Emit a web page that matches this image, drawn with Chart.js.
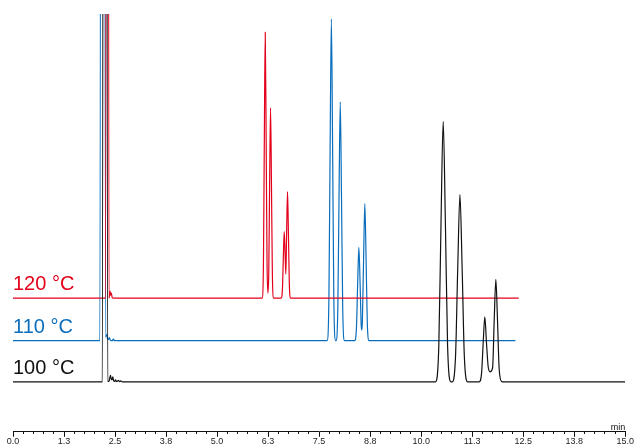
<!DOCTYPE html>
<html>
<head>
<meta charset="utf-8">
<script src="https://cdn.jsdelivr.net/npm/chart.js@4.4.0/dist/chart.umd.min.js"></script>
<style>
  html, body { margin: 0; padding: 0; background: #fff; }
</style>
</head>
<body>
<canvas id="myChart" width="635" height="446"></canvas>
<script>
// Traces (time in min, signal in arbitrary units)
const traceLabels = ["120 °C", "110 °C", "100 °C"];
const traceColors = ["#e3001b", "#0a6ebd", "#111111"];
const drawOrder = [1, 2, 0]; // black on top, blue at the bottom

const redTimes = [0, 2.27, 2.31, 2.35, 2.362, 2.377, 2.39, 2.41, 2.43, 2.46,
  6.103, 6.136, 6.158, 6.18, 6.202, 6.224, 6.245,
  6.266, 6.288, 6.31, 6.332, 6.354, 6.387,
  6.568, 6.601, 6.623, 6.645, 6.667, 6.685, 6.704, 6.726, 6.748, 6.77, 6.803,
  12.39];
const redSignal = [134, 134, 3000, 134, 136, 141, 137, 139, 134.5, 134,
  134, 170, 295.8, 400.5, 295.8, 170, 139,
  159.8, 249.8, 324.8, 249.8, 159.8, 134,
  134, 143, 174.5, 200.8, 177.5, 158, 200.6, 240.8, 198.8, 148.4, 134,
  134];

const blueTimes = [0, 2.13, 2.19, 2.27, 2.284, 2.30, 2.316, 2.34, 2.36, 2.39, 2.43, 2.46, 2.49,
  7.695, 7.74, 7.77, 7.80, 7.83, 7.86, 7.905,
  7.913, 7.958, 7.988, 8.018, 8.048, 8.078, 8.123,
  8.369, 8.414, 8.444, 8.474, 8.504, 8.532, 8.547,
  8.56, 8.59, 8.62, 8.65, 8.68, 8.725,
  12.31];
const blueSignal = [91.3, 91.3, 3000, 95, 97.5, 97, 93, 92.5, 94.5, 91.5, 91.3, 93, 91.3,
  91.3, 134.8, 287.1, 413.8, 287.1, 134.8, 91.3,
  91.3, 123.6, 236.7, 330.8, 236.7, 123.6, 91.3,
  91.3, 103.9, 148.1, 184.8, 148.5, 106, 102,
  111.4, 174.8, 228.8, 174.8, 109.9, 91.3,
  91.3];

const blackTimes = [0, 2.19, 2.25, 2.32, 2.35, 2.372, 2.389, 2.405, 2.425, 2.445, 2.465, 2.49,
  2.512, 2.535, 2.56, 2.585, 2.61, 2.64, 2.68,
  10.35, 10.432, 10.486, 10.54, 10.594, 10.648, 10.73,
  10.76, 10.842, 10.896, 10.95, 11.004, 11.058, 11.14,
  11.42, 11.48, 11.52, 11.56, 11.60, 11.64, 11.69,
  11.75, 11.79, 11.83, 11.87, 11.91, 11.97, 12.02,
  15];
const blackSignal = [50, 50, 3000, 50.5, 50.5, 54, 56.5, 53, 52, 55, 51.5, 50.5,
  52, 50.3, 50.8, 51.5, 50.2, 51, 50,
  50, 85.2, 208.5, 311.1, 208.5, 85.2, 50,
  50, 75.4, 164, 237.8, 164, 75.4, 50,
  50, 58.8, 89.5, 115.1, 89.5, 66, 60,
  64, 112.4, 152.8, 112.4, 63.9, 50.5, 50,
  50];

const tickLabels = ["0.0", "1.3", "2.5", "3.8", "5.0", "6.3", "7.5", "8.8", "10.0", "11.3", "12.5", "13.8", "15.0"];
const majorStep = 1.25;
const minorStep = 0.25;
const axisUnit = "min";

function toPoints(times, values) {
  return times.map((t, i) => ({ x: t, y: values[i] }));
}

const allTraces = [
  toPoints(redTimes, redSignal),
  toPoints(blueTimes, blueSignal),
  toPoints(blackTimes, blackSignal),
];

// minor ticks, "min" unit and the temperature labels
const extras = {
  id: "extras",
  afterDraw(chart) {
    const ctx = chart.ctx;
    const xScale = chart.scales.x;
    const yScale = chart.scales.y;
    const area = chart.chartArea;
    const axisY = Math.round(area.bottom - 0.5);

    ctx.save();
    ctx.strokeStyle = "#111";
    ctx.lineWidth = 1;
    ctx.beginPath();
    const count = Math.round(15 / minorStep);
    for (let i = 0; i <= count; i++) {
      if (i % 5 === 0) continue;
      const px = Math.round(xScale.getPixelForValue(i * minorStep) - 0.5) + 0.5;
      ctx.moveTo(px, axisY);
      ctx.lineTo(px, axisY + 3);
    }
    ctx.stroke();

    ctx.fillStyle = "#111";
    ctx.font = "9px 'Liberation Sans', Arial, sans-serif";
    ctx.textAlign = "right";
    ctx.textBaseline = "alphabetic";
    ctx.fillText(axisUnit, area.right, axisY - 1);

    ctx.font = "20px 'Liberation Sans', Arial, sans-serif";
    ctx.textAlign = "left";
    chart.data.datasets.forEach((ds, i) => {
      const py = yScale.getPixelForValue(ds.data[0].y);
      ctx.fillStyle = traceColors[i];
      ctx.fillText(traceLabels[i], area.left, py - 8);
    });
    ctx.restore();
  },
};

const ctx = document.getElementById("myChart").getContext("2d");
const myChart = new Chart(ctx, {
  type: "line",
  data: {
    datasets: allTraces.map((pts, i) => ({
      label: traceLabels[i],
      data: pts,
      order: drawOrder[i],
      borderColor: traceColors[i],
      borderWidth: 1.2,
      pointRadius: 0,
      fill: false,
      cubicInterpolationMode: "monotone",
    })),
  },
  options: {
    responsive: false,
    animation: false,
    devicePixelRatio: 1,
    layout: { padding: { top: 14, left: 13, right: 9, bottom: 0 } },
    plugins: {
      legend: { display: false },
      tooltip: { enabled: false },
    },
    scales: {
      x: {
        type: "linear",
        min: 0,
        max: 15,
        border: { display: true, color: "#111", width: 1 },
        grid: {
          display: true,
          drawOnChartArea: false,
          drawTicks: true,
          tickLength: 5,
          tickColor: "#111",
          tickWidth: 1,
        },
        ticks: {
          stepSize: majorStep,
          autoSkip: false,
          maxRotation: 0,
          padding: 1,
          color: "#222",
          font: { family: "'Liberation Sans', Arial, sans-serif", size: 9, lineHeight: 0.8 },
          callback: (value) => tickLabels[Math.round(value / majorStep)],
        },
      },
      y: {
        display: false,
        min: 0,
        max: 418.8,
      },
    },
  },
  plugins: [extras],
});
</script>
</body>
</html>
